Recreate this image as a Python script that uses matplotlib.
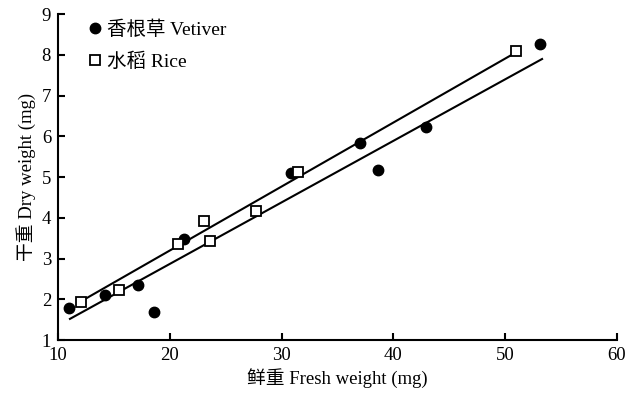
import numpy as np
import matplotlib
matplotlib.use("Agg")
import matplotlib.pyplot as plt

plt.rcParams['font.family'] = ['Liberation Serif', 'Noto Sans CJK SC', 'DejaVu Sans']

# Data
vetiver_x = [10.98, 14.2, 17.2, 18.6, 21.3, 30.8, 37.0, 38.6, 42.9, 53.1]
vetiver_y = [1.79, 2.10, 2.35, 1.69, 3.48, 5.10, 5.83, 5.17, 6.23, 8.26]
rice_x = [12.1, 15.5, 20.7, 23.1, 23.6, 27.7, 31.5, 51.0]
rice_y = [1.93, 2.23, 3.36, 3.92, 3.43, 4.17, 5.12, 8.09]

# Regression lines (slope, intercept) and x-range
vetiver_fit = [0.151, -0.152]
vetiver_fit_range = [11.07, 53.3]
rice_fit = [0.157, 0.057]
rice_fit_range = [11.8, 51.05]

x_ticks = [10, 20, 30, 40, 50, 60]
y_ticks = [1, 2, 3, 4, 5, 6, 7, 8, 9]

fig = plt.figure(figsize=(6.27, 4.01), dpi=100)
ax = fig.add_axes([0.0925, 0.152, 0.8915, 0.813])

for fit, rng in ((vetiver_fit, vetiver_fit_range), (rice_fit, rice_fit_range)):
    xs = np.array(rng)
    ax.plot(xs, fit[0] * xs + fit[1], color='black', lw=1.5, zorder=2)

ax.plot(vetiver_x, vetiver_y, 'o', color='black', ms=7.5, ls='none',
        label='香根草 Vetiver', zorder=3)
ax.plot(rice_x, rice_y, 's', mfc='white', mec='black', mew=1.3, ms=6.5,
        ls='none', label='水稻 Rice', zorder=4)

ax.set_xlim(10, 60)
ax.set_ylim(1, 9)
ax.set_xticks(x_ticks)
ax.set_yticks(y_ticks)
for s in ('top', 'right'):
    ax.spines[s].set_visible(False)
for s in ('left', 'bottom'):
    ax.spines[s].set_linewidth(1.5)
ax.tick_params(direction='in', length=5, width=1.5, labelsize=13.5, pad=5)

ax.set_xlabel('鲜重 Fresh weight (mg)', fontsize=13.5, labelpad=3)
ax.set_ylabel('干重 Dry weight (mg)', fontsize=13.5, labelpad=4)

leg = ax.legend(loc='upper left', frameon=False, fontsize=14,
                handletextpad=0.05, handlelength=1.2, labelspacing=0.7,
                bbox_to_anchor=(0.031, 1.005), borderaxespad=0.0)

fig.savefig('out.png', dpi=100)
